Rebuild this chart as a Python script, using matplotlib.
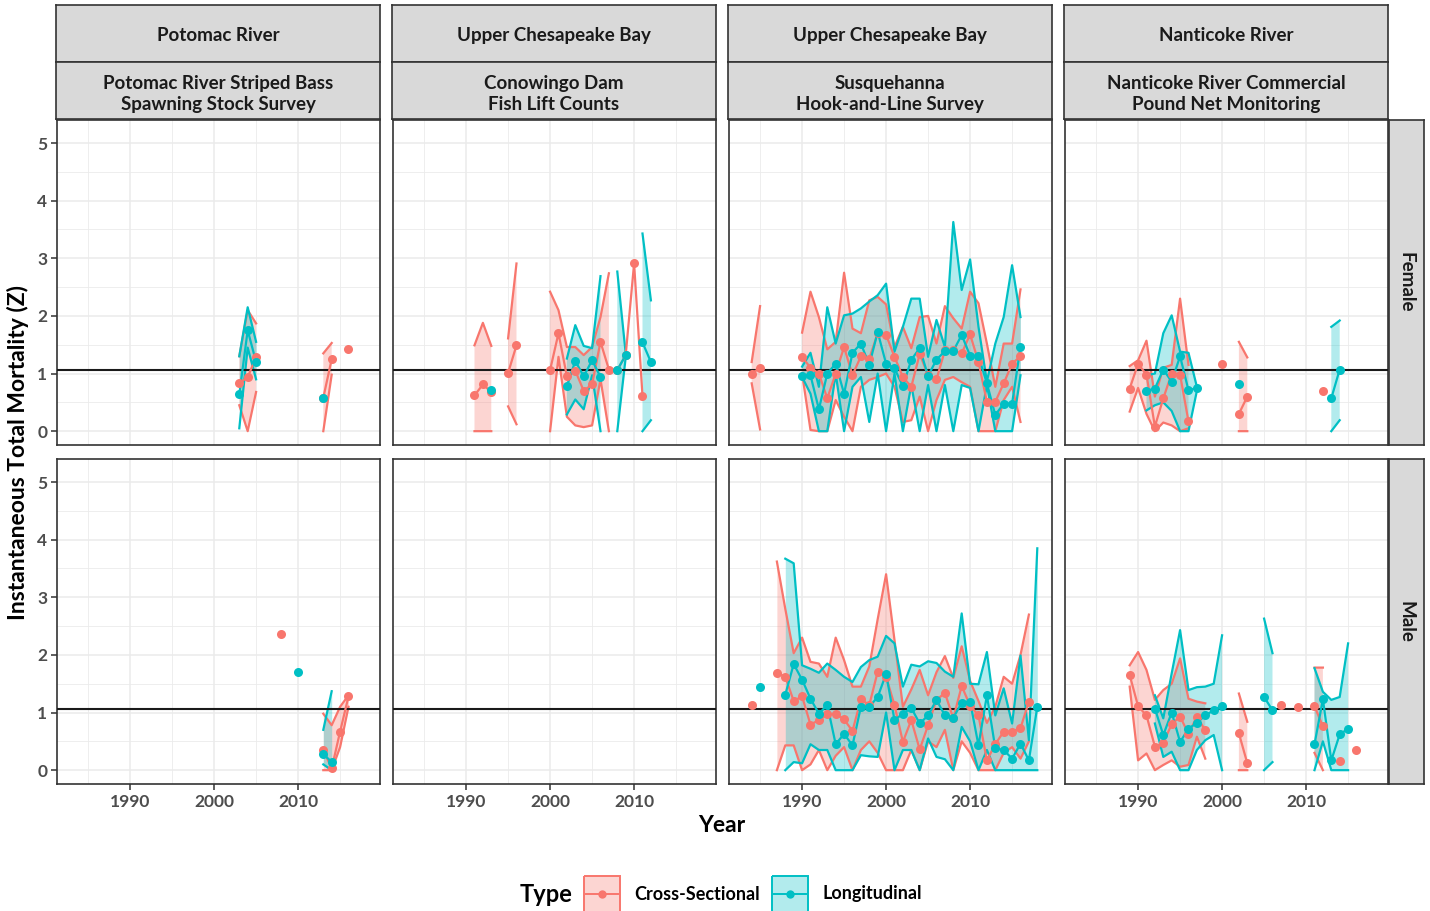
import numpy as np
import matplotlib.pyplot as plt
from matplotlib.patches import Rectangle

nan = np.nan
RED = '#F8766D'
TEAL = '#00BFC4'
REF_Z = 1.07

# facet labels
site_labels = ["Potomac River", "Upper Chesapeake Bay", "Upper Chesapeake Bay", "Nanticoke River"]
survey_labels = ["Potomac River Striped Bass\nSpawning Stock Survey",
                 "Conowingo Dam\nFish Lift Counts",
                 "Susquehanna\nHook-and-Line Survey",
                 "Nanticoke River Commercial\nPound Net Monitoring"]
sex_labels = ["Female", "Male"]
x_ticks = [1990, 2000, 2010]
y_ticks = [0, 1, 2, 3, 4, 5]

# ---- Potomac, female ----
pot_f_cs_year0 = 2003
pot_f_cs_mid = [0.83, 0.94, 1.28, nan, nan, nan, nan, nan, nan, nan, 0.58, 1.25, nan, 1.42]
pot_f_cs_lo = [0.45, 0.00, 0.68, nan, nan, nan, nan, nan, nan, nan, 0.00, 0.98, nan, nan]
pot_f_cs_hi = [1.30, 2.10, 1.87, nan, nan, nan, nan, nan, nan, nan, 1.35, 1.53, nan, nan]
pot_f_lo_year0 = 2003
pot_f_lo_mid = [0.64, 1.75, 1.20, nan, nan, nan, nan, nan, nan, nan, 0.58]
pot_f_lo_lo = [0.05, 1.45, 0.90, nan, nan, nan, nan, nan, nan, nan, nan]
pot_f_lo_hi = [1.30, 2.15, 1.55, nan, nan, nan, nan, nan, nan, nan, nan]

# ---- Potomac, male ----
pot_m_cs_year0 = 2008
pot_m_cs_mid = [2.37, nan, nan, nan, nan, 0.35, 0.03, 0.67, 1.28]
pot_m_cs_lo = [nan, nan, nan, nan, nan, 0.00, 0.00, 0.40, 1.10]
pot_m_cs_hi = [nan, nan, nan, nan, nan, 0.98, 0.78, 1.10, 1.30]
pot_m_lo_year0 = 2010
pot_m_lo_mid = [1.71, nan, nan, 0.28, 0.14]
pot_m_lo_lo = [nan, nan, nan, 0.10, 0.00]
pot_m_lo_hi = [nan, nan, nan, 0.70, 1.37]

# ---- Conowingo, female ----
con_f_cs_year0 = 1991
con_f_cs_mid = [0.62, 0.81, 0.68, nan, 1.01, 1.49, nan, nan, nan, 1.06, 1.70, 0.95, 1.05, 0.70,
                0.81, 1.55, 1.07, 1.06, 1.32, 2.91, 0.61]
con_f_cs_lo = [0.00, 0.00, 0.00, nan, 0.43, 0.12, nan, nan, nan, 0.00, 1.29, 0.25, 0.10, 0.07,
               0.10, 0.90, 0.00, nan, nan, nan, nan]
con_f_cs_hi = [1.49, 1.88, 1.48, nan, 1.61, 2.91, nan, nan, nan, 2.42, 2.10, 1.46, 1.46, 1.32,
               1.46, 1.98, 2.74, nan, nan, nan, nan]
con_f_lo_year0 = 1993
con_f_lo_mid = [0.72, nan, nan, nan, nan, nan, nan, nan, nan, 0.78, 1.22, 0.95, 1.23, 0.94,
                nan, 1.06, 1.32, nan, 1.54, 1.20]
con_f_lo_lo = [nan, nan, nan, nan, nan, nan, nan, nan, nan, 0.29, 0.55, 0.38, 0.97, 0.00,
               nan, 0.00, 1.28, nan, 0.00, 0.19]
con_f_lo_hi = [nan, nan, nan, nan, nan, nan, nan, nan, nan, 1.26, 1.84, 1.48, 1.44, 2.69,
               nan, 2.77, 1.35, nan, 3.43, 2.27]

# ---- Susquehanna, female ----
sus_f_cs_year0 = 1984
sus_f_cs_mid = [1.00, 1.10, nan, nan, nan, nan,
                1.29, 1.10, 1.00, 0.57, 1.00, 1.46, 0.97, 1.30, 1.26, 1.70, 1.67, 1.29, 0.94, 0.77,
                1.34, 0.97, 0.90, 1.40, 1.40, 1.35, 1.68, 1.20, 0.51, 0.51, 0.83, 1.17, 1.30]
sus_f_cs_lo = [0.83, 0.03, nan, nan, nan, nan,
               1.00, 0.02, 0.00, 0.00, 0.54, 0.25, 0.00, 0.77, 0.89, 0.94, 1.00, 0.77, 0.16, 0.19,
               0.60, 0.00, 0.54, 0.89, 0.94, 0.85, 0.77, 0.00, 0.00, 0.00, 0.54, 0.77, 0.16]
sus_f_cs_hi = [1.20, 2.17, nan, nan, nan, nan,
               1.71, 2.42, 1.98, 1.42, 1.55, 2.75, 1.78, 1.70, 2.27, 2.33, 2.20, 1.46, 1.81, 1.44,
               1.98, 2.00, 1.52, 2.17, 1.96, 1.78, 2.42, 2.22, 1.52, 0.77, 1.52, 1.52, 2.46]
sus_f_lo_year0 = 1990
sus_f_lo_mid = [0.96, 0.97, 0.38, 1.00, 1.17, 0.65, 1.36, 1.52, 1.15, 1.72, 1.17, 1.09, 0.78, 1.24,
                1.44, 0.96, 1.24, 1.39, 1.39, 1.67, 1.31, 1.30, 0.83, 0.28, 0.48, 0.48, 1.46]
sus_f_lo_lo = [0.94, 0.65, 0.00, 0.00, 1.00, 0.00, 0.77, 0.94, 0.16, 1.00, 0.00, 1.00, 0.00, 0.80,
               0.00, 0.80, 0.00, 0.80, 0.00, 0.80, 0.75, 0.00, 0.80, 0.00, 0.00, 0.00, 0.97]
sus_f_lo_hi = [1.12, 1.36, 0.77, 2.15, 1.52, 2.01, 2.04, 2.13, 2.25, 2.36, 2.56, 1.38, 1.81, 2.30,
               2.30, 1.29, 1.93, 1.46, 3.63, 2.45, 2.98, 1.81, 0.86, 1.52, 1.98, 2.88, 1.98]

# ---- Susquehanna, male ----
sus_m_cs_year0 = 1984
sus_m_cs_mid = [1.13, nan, nan,
                1.69, 1.62, 1.20, 1.28, 0.79, 0.87, 0.97, 0.98, 0.88, 0.68, 1.23, 1.13, 1.71, 1.62,
                1.13, 0.49, 0.87, 0.36, 0.78, 1.22, 1.34, 0.90, 1.46, 1.12, 0.95, 0.17, 0.45, 0.67,
                0.67, 0.73, 1.19]
sus_m_cs_lo = [nan, nan, nan,
               0.00, 0.43, 0.43, 0.00, 0.10, 0.35, 0.00, 0.25, 0.40, 0.00, 0.35, 0.50, 0.30, 0.00,
               0.00, 0.00, 0.35, 0.00, 0.50, 0.40, 0.70, 0.00, 0.50, 0.30, 0.00, 0.00, 0.00, 0.30,
               0.40, 0.20, 0.50]
sus_m_cs_hi = [nan, nan, nan,
               3.62, 2.80, 2.03, 2.30, 1.88, 1.85, 1.62, 2.30, 1.91, 1.45, 1.45, 1.80, 2.62, 3.40,
               2.26, 1.10, 1.40, 1.74, 1.30, 1.70, 1.98, 1.60, 2.15, 1.55, 1.20, 0.82, 1.10, 1.62,
               1.50, 2.00, 2.70]
sus_m_lo_year0 = 1985
sus_m_lo_mid = [1.45, nan, nan,
                1.31, 1.84, 1.57, 1.24, 0.98, 1.13, 0.45, 0.63, 0.43, 1.10, 1.10, 1.27, 1.67, 0.87,
                0.98, 1.08, 0.81, 0.95, 1.22, 0.95, 0.91, 1.17, 1.19, 0.43, 1.30, 0.38, 0.35, 0.20,
                0.46, 0.17, 1.10]
sus_m_lo_lo = [nan, nan, nan,
               0.00, 0.14, 0.12, 0.45, 0.35, 0.35, 0.00, 0.00, 0.00, 0.26, 0.24, 0.23, 1.00, 0.00,
               0.35, 0.35, 0.00, 0.55, 0.23, 0.19, 0.00, 0.75, 0.50, 0.00, 0.35, 0.00, 0.00, 0.00,
               0.00, 0.00, 0.00]
sus_m_lo_hi = [nan, nan, nan,
               3.67, 3.59, 1.82, 1.76, 1.69, 1.85, 1.74, 1.62, 1.53, 1.79, 1.91, 1.97, 2.33, 2.20,
               1.45, 1.83, 1.80, 1.89, 1.86, 1.71, 1.62, 2.72, 1.50, 1.49, 2.05, 0.95, 1.42, 0.81,
               1.99, 0.52, 3.85]

# ---- Nanticoke, female ----
nan_f_cs_year0 = 1989
nan_f_cs_mid = [0.74, 1.17, 0.98, 0.08, 0.57, 1.00, 0.98, 0.17, nan, nan, nan, 1.17, nan, 0.30,
                0.60, nan, nan, nan, nan, nan, nan, nan, nan, 0.69]
nan_f_cs_lo = [0.34, 0.75, 0.30, 0.00, 0.15, 0.10, 0.00, 0.05, nan, nan, nan, nan, nan, 0.00,
               0.00, nan, nan, nan, nan, nan, nan, nan, nan, nan]
nan_f_cs_hi = [1.13, 1.23, 1.57, 0.60, 1.10, 1.15, 2.30, 1.15, nan, nan, nan, nan, nan, 1.55,
               1.28, nan, nan, nan, nan, nan, nan, nan, nan, nan]
nan_f_lo_year0 = 1991
nan_f_lo_mid = [0.70, 0.74, 1.07, 0.86, 1.30, 0.71, 0.75, nan, nan, nan, nan, 0.81,
                nan, nan, nan, nan, nan, nan, nan, nan, nan, nan, 0.57, 1.07]
nan_f_lo_lo = [0.36, 0.45, 0.50, 0.35, 0.00, 0.00, 0.70, nan, nan, nan, nan, nan,
               nan, nan, nan, nan, nan, nan, nan, nan, nan, nan, 0.00, 0.19]
nan_f_lo_hi = [0.97, 1.00, 1.70, 2.01, 1.38, 1.36, 0.77, nan, nan, nan, nan, nan,
               nan, nan, nan, nan, nan, nan, nan, nan, nan, nan, 1.81, 1.92]

# ---- Nanticoke, male ----
nan_m_cs_year0 = 1989
nan_m_cs_mid = [1.65, 1.11, 0.95, 0.41, 0.47, 0.80, 0.93, 0.63, 0.93, 0.69, nan, nan, nan, 0.64,
                0.12, nan, nan, nan, 1.13, nan, 1.10, nan, 1.11, 0.76, nan, 0.16, nan, 0.35]
nan_m_cs_lo = [1.45, 0.17, 0.29, 0.00, 0.09, 0.17, 0.06, 0.09, 0.58, 0.20, nan, nan, nan, 0.00,
               0.00, nan, nan, nan, nan, nan, nan, nan, 0.30, 0.00, nan, nan, nan, nan]
nan_m_cs_hi = [1.82, 2.05, 1.74, 1.22, 1.39, 1.50, 1.94, 1.24, 1.19, 1.16, nan, nan, nan, 1.33,
               0.84, nan, nan, nan, nan, nan, nan, nan, 1.78, 1.78, nan, nan, nan, nan]
nan_m_lo_year0 = 1992
nan_m_lo_mid = [1.07, 0.61, 1.00, 0.49, 0.72, 0.82, 0.95, 1.04, 1.12, nan, nan, nan, nan, 1.27,
                1.04, nan, nan, nan, nan, 0.45, 1.23, 0.17, 0.62, 0.72]
nan_m_lo_lo = [0.81, 0.23, 0.32, 0.00, 0.00, 0.35, 0.52, 0.61, 0.00, nan, nan, nan, nan, 0.00,
               0.14, nan, nan, nan, nan, 0.00, 0.50, 0.00, 0.00, 0.00]
nan_m_lo_hi = [1.30, 0.90, 1.68, 2.43, 1.39, 1.44, 1.45, 1.50, 2.34, nan, nan, nan, nan, 2.63,
               2.03, nan, nan, nan, nan, 1.77, 1.36, 1.22, 1.27, 2.20]

# panels: (row, col) -> list of (year0, mid, lo, hi, colour)
panels = {
    (0, 0): [(pot_f_cs_year0, pot_f_cs_mid, pot_f_cs_lo, pot_f_cs_hi, RED),
             (pot_f_lo_year0, pot_f_lo_mid, pot_f_lo_lo, pot_f_lo_hi, TEAL)],
    (0, 1): [(con_f_cs_year0, con_f_cs_mid, con_f_cs_lo, con_f_cs_hi, RED),
             (con_f_lo_year0, con_f_lo_mid, con_f_lo_lo, con_f_lo_hi, TEAL)],
    (0, 2): [(sus_f_cs_year0, sus_f_cs_mid, sus_f_cs_lo, sus_f_cs_hi, RED),
             (sus_f_lo_year0, sus_f_lo_mid, sus_f_lo_lo, sus_f_lo_hi, TEAL)],
    (0, 3): [(nan_f_cs_year0, nan_f_cs_mid, nan_f_cs_lo, nan_f_cs_hi, RED),
             (nan_f_lo_year0, nan_f_lo_mid, nan_f_lo_lo, nan_f_lo_hi, TEAL)],
    (1, 0): [(pot_m_cs_year0, pot_m_cs_mid, pot_m_cs_lo, pot_m_cs_hi, RED),
             (pot_m_lo_year0, pot_m_lo_mid, pot_m_lo_lo, pot_m_lo_hi, TEAL)],
    (1, 1): [],
    (1, 2): [(sus_m_cs_year0, sus_m_cs_mid, sus_m_cs_lo, sus_m_cs_hi, RED),
             (sus_m_lo_year0, sus_m_lo_mid, sus_m_lo_lo, sus_m_lo_hi, TEAL)],
    (1, 3): [(nan_m_cs_year0, nan_m_cs_mid, nan_m_cs_lo, nan_m_cs_hi, RED),
             (nan_m_lo_year0, nan_m_lo_mid, nan_m_lo_lo, nan_m_lo_hi, TEAL)],
}

plt.rcParams['font.family'] = ['Lato', 'DejaVu Sans']
plt.rcParams['font.weight'] = 'bold'

W, H = 1430, 911
fig = plt.figure(figsize=(W / 100, H / 100), dpi=100)

col_left = [57, 393, 729, 1065]
row_top = [120, 459]
pw, ph = 323, 325
EDGE = '#333333'
GRID = '#EBEBEB'
TICKTXT = '#4D4D4D'
LW = 1.6


def px_rect(l, t, w, h):
    return [l / W, 1 - (t + h) / H, w / W, h / H]


def strip(l, t, w, h, text, rot=0, ypos=0.5):
    sax = fig.add_axes(px_rect(l, t, w, h))
    sax.set_facecolor('#D9D9D9')
    sax.set_xticks([])
    sax.set_yticks([])
    for s in sax.spines.values():
        s.set_color(EDGE)
        s.set_linewidth(1.2)
    sax.text(0.5, ypos, text, ha='center', va='center', rotation=rot,
             fontsize=13.5, fontweight='bold', color='#1A1A1A',
             linespacing=1.25, transform=sax.transAxes)


for (r, c), series in panels.items():
    ax = fig.add_axes(px_rect(col_left[c], row_top[r], pw, ph))
    ax.set_xlim(1981.3, 2019.75)
    ax.set_ylim(-0.24, 5.4)
    ax.set_xticks(x_ticks)
    ax.set_xticks([1985, 1995, 2005, 2015], minor=True)
    ax.set_yticks(y_ticks)
    ax.set_yticks(np.arange(0.5, 5.5, 1.0), minor=True)
    ax.grid(which='major', color=GRID, lw=1.1)
    ax.grid(which='minor', color=GRID, lw=0.6)
    ax.set_axisbelow(True)
    for s in ax.spines.values():
        s.set_color(EDGE)
        s.set_linewidth(1.2)
    ax.tick_params(which='minor', length=0)
    ax.tick_params(which='major', color=EDGE, length=4, width=1.1,
                   labelsize=12.5, labelcolor=TICKTXT, pad=3)
    if c != 0:
        ax.tick_params(axis='y', length=0, labelleft=False)
    if r != 1:
        ax.tick_params(axis='x', length=0, labelbottom=False)
    for lab in ax.get_xticklabels() + ax.get_yticklabels():
        lab.set_fontweight('bold')

    # layers as ggplot would: ribbons, ribbon edges, lines, points
    for year0, mid, lo, hi, col in series:
        yrs = np.arange(year0, year0 + len(mid))
        ax.fill_between(yrs, lo, hi, color=col, alpha=0.3, lw=0, zorder=2)
    for year0, mid, lo, hi, col in series:
        yrs = np.arange(year0, year0 + len(mid))
        ax.plot(yrs, lo, color=col, lw=LW, zorder=3)
        ax.plot(yrs, hi, color=col, lw=LW, zorder=3)
    ax.axhline(REF_Z, color='#1A1A1A', lw=1.5, zorder=4)
    for year0, mid, lo, hi, col in series:
        yrs = np.arange(year0, year0 + len(mid))
        ax.plot(yrs, mid, color=col, lw=LW, zorder=5)
        ax.plot(yrs, mid, 'o', color=col, ms=6.5, mec='none', zorder=6)

# strips
for c in range(4):
    strip(col_left[c] - 1, 5, pw + 1, 57, site_labels[c], ypos=0.47)
    strip(col_left[c] - 1, 62, pw + 1, 57, survey_labels[c], ypos=0.44)
for r in range(2):
    strip(1389, row_top[r], 35, ph, sex_labels[r], rot=-90)

# axis titles
fig.text(18 / W, 1 - 452 / H, "Instantaneous Total Mortality (Z)", rotation=90,
         ha='center', va='center', fontsize=16.5, fontweight='bold', color='black')
fig.text(722 / W, 1 - 826 / H, "Year", ha='center', va='center',
         fontsize=16.5, fontweight='bold', color='black')

# legend
lax = fig.add_axes([0, 0, 1, 1])
lax.set_xlim(0, W)
lax.set_ylim(H, 0)
lax.set_axis_off()
lax.text(546, 894, "Type", ha='center', va='center', fontsize=17, fontweight='bold')
for x0, col, label in [(584, RED, "Cross-Sectional"), (772, TEAL, "Longitudinal")]:
    lax.add_patch(Rectangle((x0, 876), 36, 38, facecolor=col, alpha=0.3, lw=0))
    lax.add_patch(Rectangle((x0, 876), 36, 38, facecolor='none', edgecolor=col, lw=1.4))
    lax.plot([x0 + 2, x0 + 34], [894, 894], color=col, lw=1.4)
    lax.plot([x0 + 18], [894], 'o', color=col, ms=6, mec='none')
    lax.text(x0 + 50, 894, label, ha='left', va='center', fontsize=13, fontweight='bold')

fig.savefig('out.png', dpi=100)
